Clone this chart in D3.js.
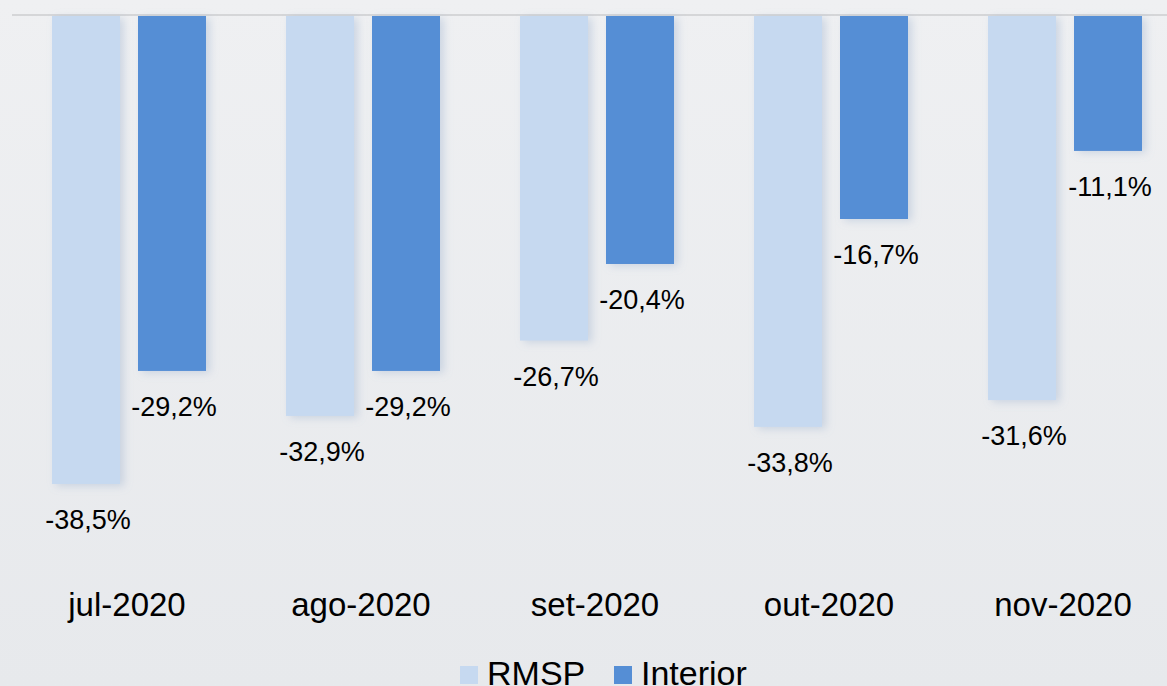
<!DOCTYPE html>
<html>
<head>
<meta charset="utf-8">
<script src="https://cdn.jsdelivr.net/npm/d3@7"></script>
<style>
  body { margin: 0; overflow: hidden; }
  text { font-family: "Liberation Sans", Arial, sans-serif; fill: #000; }
</style>
</head>
<body>
<div id="chart"></div>
<script>
// data
const months = ["jul-2020", "ago-2020", "set-2020", "out-2020", "nov-2020"]
const seriesNames = ["RMSP", "Interior"]
const rmsp = [-38.5, -32.9, -26.7, -33.8, -31.6]
const interior = [-29.2, -29.2, -20.4, -16.7, -11.1]
const colours = ["#c6d9f0", "#558ed5"]

const W = 1167, H = 686
const margin = { top: 16, left: 12 }
const step = 234

const svg = d3.select("#chart").append("svg")
  .attr("width", W)
  .attr("height", H)

// background gradient + bar shadow
const defs = svg.append("defs")
const grad = defs.append("linearGradient").attr("id", "bg")
  .attr("x1", 0).attr("y1", 0).attr("x2", 0).attr("y2", 1)
grad.append("stop").attr("offset", "0%").attr("stop-color", "#eff0f2")
grad.append("stop").attr("offset", "100%").attr("stop-color", "#e7e9ec")
const shadow = defs.append("filter").attr("id", "shadow")
  .attr("x", "-20%").attr("y", "-5%").attr("width", "150%").attr("height", "115%")
shadow.append("feDropShadow").attr("dx", 4).attr("dy", 2).attr("stdDeviation", 4)
  .attr("flood-color", "#8aa4c8").attr("flood-opacity", 0.35)

svg.append("rect").attr("width", W).attr("height", H).attr("fill", "url(#bg)")

//scales
const x0 = d3.scaleBand()
  .domain(months)
  .range([margin.left, margin.left + step * months.length])
  .paddingInner(0).paddingOuter(0)

const x1 = d3.scaleBand()
  .domain(seriesNames)
  .range([40, step - 40])
  .paddingInner(18 / 86)

const y = d3.scaleLinear()
  .domain([0, -38.5])
  .range([margin.top, 484])

// zero line
svg.append("line")
  .attr("x1", margin.left).attr("x2", W)
  .attr("y1", y(0) - 1).attr("y2", y(0) - 1)
  .attr("stroke", "#d5d6d8").attr("stroke-width", 2)

const rows = months.map((m, i) => ({ month: m, values: [rmsp[i], interior[i]] }))

const groups = svg.append("g").selectAll("g")
  .data(rows)
  .enter()
  .append("g")
  .attr("transform", d => "translate(" + x0(d.month) + ",0)")

const fmt = v => d3.format(".1f")(v).replace("−", "-").replace(".", ",") + "%"

groups.selectAll("rect")
  .data(d => d.values.map((v, j) => ({ key: seriesNames[j], v: v, j: j })))
  .enter()
  .append("rect")
  .attr("x", d => x1(d.key))
  .attr("y", y(0))
  .attr("width", x1.bandwidth())
  .attr("height", d => y(d.v) - y(0))
  .attr("fill", d => colours[d.j])
  .attr("filter", "url(#shadow)")

groups.selectAll("text.val")
  .data(d => d.values.map((v, j) => ({ key: seriesNames[j], v: v })))
  .enter()
  .append("text")
  .attr("class", "val")
  .attr("x", d => x1(d.key) + x1.bandwidth() / 2 + 2)
  .attr("y", d => y(d.v) + 45)
  .attr("text-anchor", "middle")
  .style("font-size", "27px")
  .text(d => fmt(d.v))

// category labels
svg.append("g").selectAll("text")
  .data(months)
  .enter()
  .append("text")
  .attr("x", d => x0(d) + step / 2 - 2)
  .attr("y", 616)
  .attr("text-anchor", "middle")
  .style("font-size", "33px")
  .text(d => d)

// legend
const legend = svg.append("g")
const legendX = [460, 614]
seriesNames.forEach((name, i) => {
  legend.append("rect")
    .attr("x", legendX[i]).attr("y", 666)
    .attr("width", 18).attr("height", 18)
    .attr("fill", colours[i])
  legend.append("text")
    .attr("x", legendX[i] + 27).attr("y", 685)
    .style("font-size", "34px")
    .text(name)
})
</script>
</body>
</html>
